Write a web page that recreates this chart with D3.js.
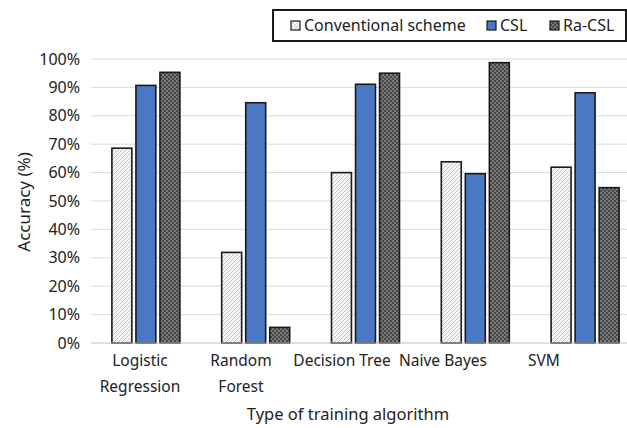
<!DOCTYPE html>
<html><head><meta charset="utf-8">
<script src="https://cdn.jsdelivr.net/npm/d3@7"></script>
<style>body{margin:0;background:#fff}svg{display:block}text{font-family:"Noto Sans",sans-serif;fill:#222}</style>
</head><body>
<svg id="c" width="627" height="428"></svg>
<script>
const categories = [["Logistic","Regression"],["Random","Forest"],["Decision Tree"],["Naive Bayes"],["SVM"]];
const seriesNames = ["Conventional scheme","CSL","Ra-CSL"];
const conventional = [68.6, 31.9, 60.0, 63.8, 61.9];
const csl = [90.7, 84.6, 91.1, 59.6, 88.1];
const raCsl = [95.3, 5.5, 95.0, 98.7, 54.7];
const yTicks = [0,10,20,30,40,50,60,70,80,90,100];

const series = [conventional, csl, raCsl];
const svg = d3.select("#c");
const defs = svg.append("defs");
const ph = defs.append("pattern").attr("id","hatch").attr("patternUnits","userSpaceOnUse").attr("width",4).attr("height",4);
ph.append("rect").attr("width",4).attr("height",4).attr("fill","#f6f6f6");
ph.append("path").attr("d","M-1,1 l2,-2 M0,4 l4,-4 M3,5 l2,-2").attr("stroke","#c6c6c6").attr("stroke-width",1);
const pc = defs.append("pattern").attr("id","check").attr("patternUnits","userSpaceOnUse").attr("width",4).attr("height",4);
pc.append("rect").attr("width",4).attr("height",4).attr("fill","#474747");
pc.append("rect").attr("width",2).attr("height",2).attr("fill","#7a7a7a");
pc.append("rect").attr("x",2).attr("y",2).attr("width",2).attr("height",2).attr("fill","#7a7a7a");
const fills = ["url(#hatch)","#4a78c2","url(#check)"];

const x0 = d3.scaleBand().domain(d3.range(categories.length)).range([91,640]);
const x1 = d3.scaleBand().domain(d3.range(3)).range([0,68]).paddingInner(0.17);
const xl = d3.scaleBand().domain(d3.range(categories.length)).range([89.5,594.5]);
const y = d3.scaleLinear().domain([0,100]).range([343,59]);
const gx0 = (x0.bandwidth()-68)/2;

// gridlines
svg.append("g").selectAll("line").data(yTicks.filter(d=>d>0)).join("line")
  .attr("x1",91).attr("x2",627).attr("y1",d=>y(d)).attr("y2",d=>y(d))
  .attr("stroke","#d9d9d9").attr("stroke-width",1);

// y axis labels
const ya = svg.append("g").attr("transform","translate(91,0)")
  .call(d3.axisLeft(y).tickValues(yTicks).tickFormat(d=>d+"%").tickSize(0).tickPadding(11));
ya.select(".domain").remove();
ya.selectAll("text").attr("font-size",16).attr("font-family","Noto Sans").attr("fill","#222");

// bars
const g = svg.append("g");
categories.forEach((c,i)=>{
  series.forEach((s,j)=>{
    g.append("rect")
      .attr("x", x0(i)+gx0+x1(j)).attr("width", x1.bandwidth())
      .attr("y", y(s[i])).attr("height", y(0)-y(s[i]))
      .attr("fill", fills[j]).attr("stroke","#1a1a1a").attr("stroke-width",1.6);
  });
});

// x axis line
svg.append("line").attr("x1",91).attr("x2",627).attr("y1",y(0)).attr("y2",y(0)).attr("stroke","#bfbfbf").attr("stroke-width",1.2);

// category labels
categories.forEach((c,i)=>{
  const cx = xl(i)+xl.bandwidth()/2;
  const t = svg.append("text").attr("text-anchor","middle").attr("font-size",15.5)
    .attr("x", cx).attr("y",366);
  c.forEach((line,k)=>t.append("tspan").attr("x",cx).attr("dy",k?26:0).text(line));
});

// axis titles
svg.append("text").attr("x",348).attr("y",420).attr("text-anchor","middle").attr("font-size",16.5).text("Type of training algorithm");
svg.append("text").attr("transform","translate(30,202) rotate(-90)").attr("text-anchor","middle").attr("font-size",17).text("Accuracy (%)");

// legend
svg.append("rect").attr("x",273).attr("y",10).attr("width",353).attr("height",31).attr("fill","#fff").attr("stroke","#1a1a1a").attr("stroke-width",2);
const legX = [291, 487, 550];
seriesNames.forEach((n,j)=>{
  svg.append("rect").attr("x",legX[j]).attr("y",21).attr("width",9).attr("height",9)
    .attr("fill",fills[j]).attr("stroke","#1a1a1a").attr("stroke-width",1.2);
  svg.append("text").attr("x",legX[j]+13).attr("y",31).attr("font-size",16).text(n);
});
</script>
</body></html>
